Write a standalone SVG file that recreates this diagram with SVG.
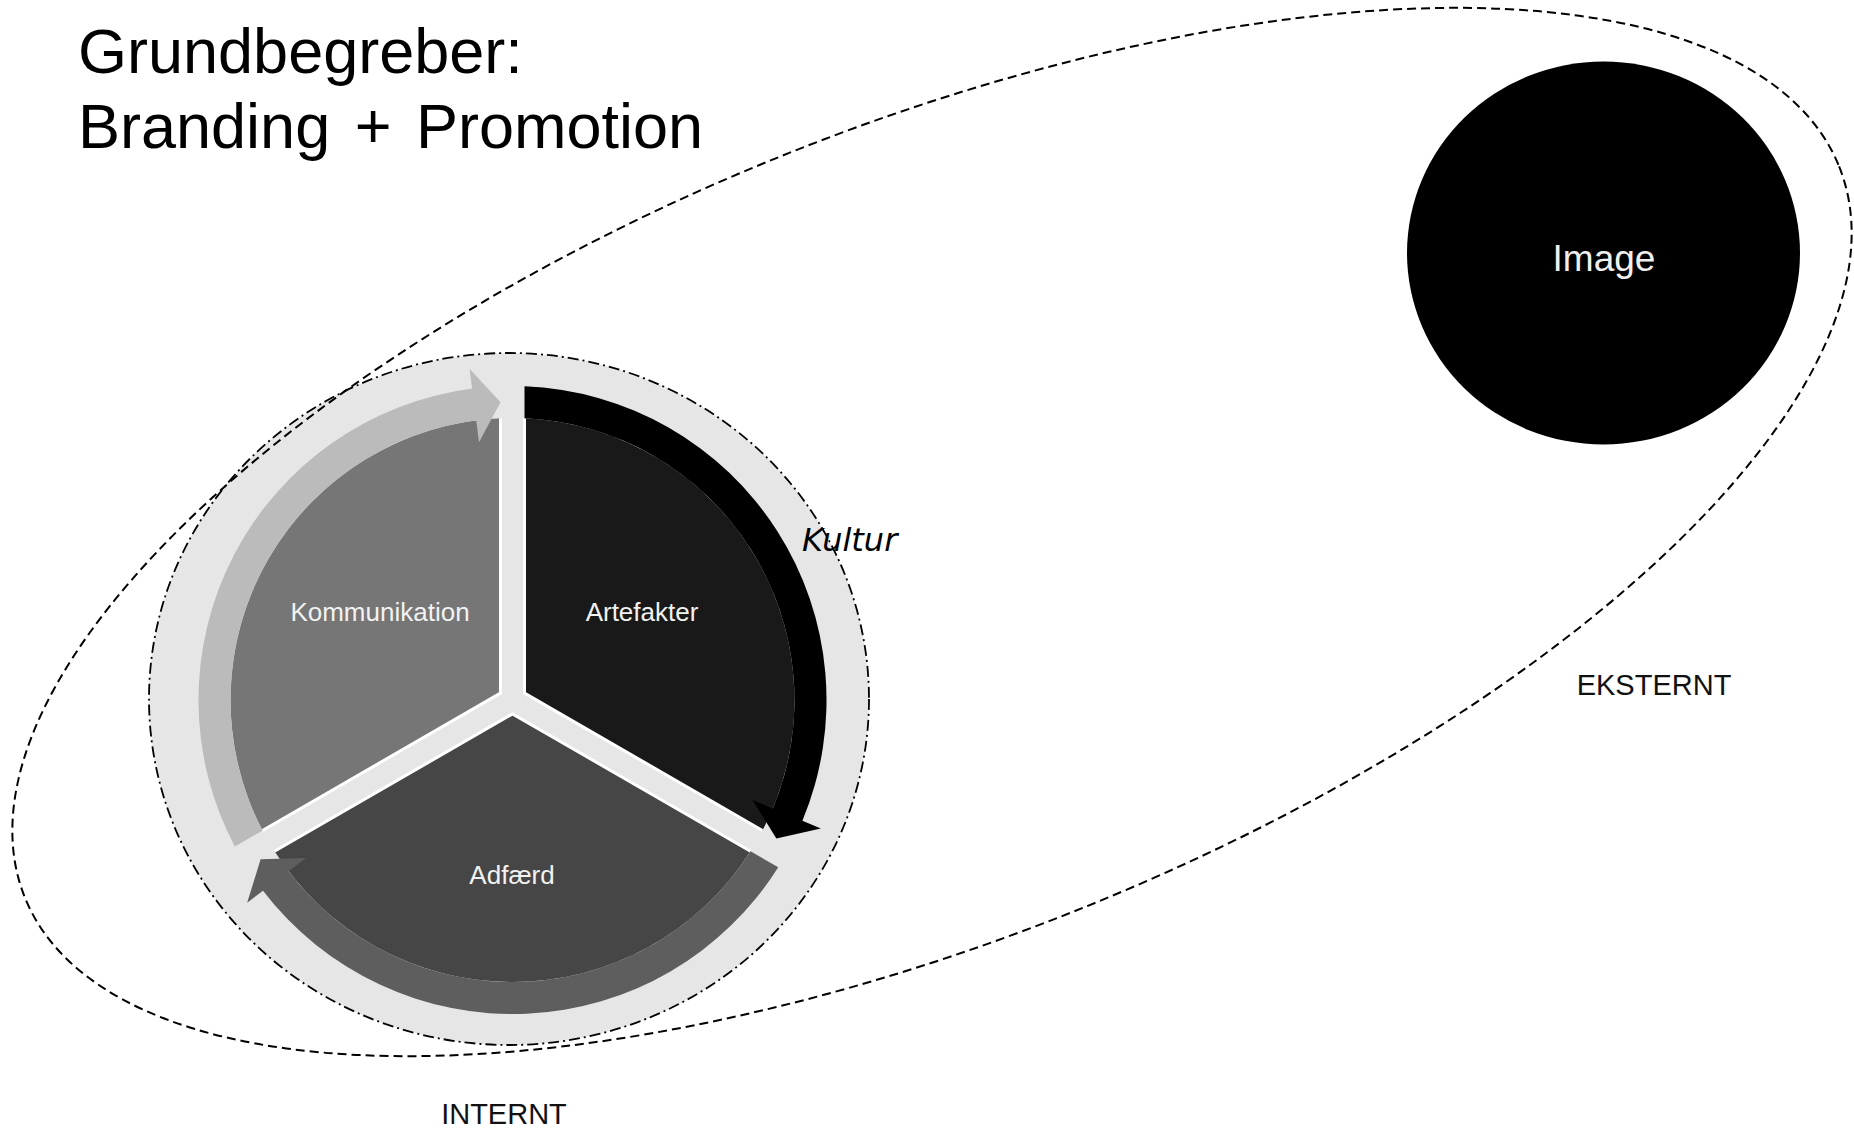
<svg xmlns="http://www.w3.org/2000/svg" width="1854" height="1130" viewBox="0 0 1854 1130">
  <style>
    .title { font-family: "Liberation Sans", Arial, sans-serif; font-size: 63px; fill: #000; }
    .seg { font-family: "Liberation Sans", Arial, sans-serif; font-size: 26px; fill: #f2f2f2; text-anchor: middle; }
    .zone { font-family: "Liberation Sans", Arial, sans-serif; font-size: 29px; fill: #111; text-anchor: middle; }
    .culture { font-family: "DejaVu Sans", Verdana, sans-serif; font-style: italic; font-size: 32px; fill: #000; }
    .image-label { font-family: "Liberation Sans", Arial, sans-serif; font-size: 37px; fill: #f0f0f0; text-anchor: middle; }
    .edge { fill: none; stroke: #fff; stroke-width: 3; }
    .outer { fill: none; stroke: #000; stroke-width: 2; stroke-dasharray: 9 5; }
    .inner { fill: #e6e6e6; stroke: #000; stroke-width: 1.8; stroke-dasharray: 11 4 2 4; }
  </style>
  <defs>
    <!-- one 120 degree wedge, drawn for the top-right slot; other slots are rotations -->
    <path id="wedge" d="M12,-6.93 L12,-281.74 A282,282 0 0 1 249.99,130.48 Z"/>
    <path id="wedge-edge" d="M12,-281.74 L12,-6.93 L249.99,130.48"/>
    <!-- curved arrow running clockwise along the outside of the wedge -->
    <path id="cycle-arrow" d="M12,-313.77 A314,314 0 0 1 289.9,120.7 L308.3,128.4 L263.86,138.49 L240,99.9 L260.3,108.4 A282,282 0 0 0 12,-281.74 Z"/>
  </defs>

  <rect width="1854" height="1130" fill="#fff"/>

  <g id="title">
    <text class="title" x="78" y="73">Grundbegreber:</text>
    <text class="title" x="78" y="148" word-spacing="7">Branding + Promotion</text>
  </g>

  <g id="internal-zone">
    <ellipse class="inner" cx="509" cy="699" rx="360" ry="346"/>
  </g>

  <g id="node-artefakter">
    <g transform="translate(512.5 700)">
      <use href="#wedge" fill="#191919"/>
      <use href="#wedge-edge" class="edge"/>
    </g>
    <text class="seg" x="642" y="621">Artefakter</text>
  </g>

  <g id="node-adfaerd">
    <g transform="translate(512.5 700) rotate(120)">
      <use href="#wedge" fill="#464646"/>
      <use href="#wedge-edge" class="edge"/>
    </g>
    <text class="seg" x="512" y="884">Adfærd</text>
  </g>

  <g id="node-kommunikation">
    <g transform="translate(512.5 700) rotate(240)">
      <use href="#wedge" fill="#767676"/>
      <use href="#wedge-edge" class="edge"/>
    </g>
    <text class="seg" x="380" y="621">Kommunikation</text>
  </g>

  <g id="connectors">
    <use href="#cycle-arrow" fill="#000" transform="translate(512.5 700)"/>
    <use href="#cycle-arrow" fill="#5e5e5e" transform="translate(512.5 700) rotate(120)"/>
    <use href="#cycle-arrow" fill="#bbbbbb" transform="translate(512.5 700) rotate(240)"/>
  </g>

  <g id="node-image">
    <ellipse cx="1603.5" cy="253" rx="196.5" ry="191.5" fill="#000"/>
    <text class="image-label" x="1604" y="271">Image</text>
  </g>

  <g id="external-zone">
    <ellipse class="outer" cx="932" cy="532" rx="978" ry="405" transform="rotate(-21.95 932 532)"/>
  </g>

  <g id="labels">
    <text class="culture" x="802" y="551">Kultur</text>
    <text class="zone" x="1654" y="695">EKSTERNT</text>
    <text class="zone" x="504" y="1124">INTERNT</text>
  </g>
</svg>
